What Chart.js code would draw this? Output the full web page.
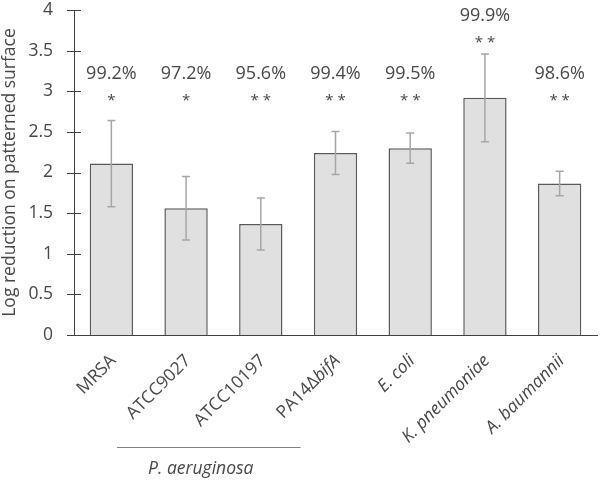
<!DOCTYPE html>
<html>
<head>
<meta charset="utf-8">
<script src="https://cdn.jsdelivr.net/npm/chart.js@4"></script>
<style>
  html, body { margin: 0; padding: 0; background: #ffffff; }
  #wrap { width: 600px; height: 481px; position: relative; }
</style>
</head>
<body>
<div id="wrap"><canvas id="c" width="600" height="481"></canvas></div>
<script>
// ---- data ----
const categories = ["MRSA", "ATCC9027", "ATCC10197", "PA14\u0394bifA", "E. coli", "K. pneumoniae", "A. baumannii"];
// label segments: [text, italic]
const categoryParts = [
  [["MRSA", false]],
  [["ATCC9027", false]],
  [["ATCC10197", false]],
  [["PA14\u0394", false], ["bifA", true]],
  [["E. coli", true]],
  [["K. pneumoniae", true]],
  [["A. baumannii", true]]
];
const logReduction = [2.11, 1.56, 1.365, 2.24, 2.30, 2.92, 1.865];
const errorSD = [0.53, 0.39, 0.32, 0.265, 0.185, 0.54, 0.15];
const percentLabels = ["99.2%", "97.2%", "95.6%", "99.4%", "99.5%", "99.9%", "98.6%"];
const starLabels = ["*", "*", "* *", "* *", "* *", "* *", "* *"];
const groupLabel = "P. aeruginosa";
const groupFirst = 1, groupLast = 3;
const yTickValues = [0, 0.5, 1, 1.5, 2, 2.5, 3, 3.5, 4];

const FONT = "'Open Sans', 'DejaVu Sans', sans-serif";
const W = "400";
const TEXT = "#484848";

const overlay = {
  id: "overlay",
  afterDatasetsDraw(chart) {
    const ctx = chart.ctx;
    const x = chart.scales.x, y = chart.scales.y;
    const area = chart.chartArea;
    ctx.save();
    // error bars
    ctx.strokeStyle = "#a6a6a6";
    ctx.lineWidth = 1.5;
    logReduction.forEach((v, i) => {
      const cx = x.getPixelForValue(i);
      const yt = y.getPixelForValue(v + errorSD[i]);
      const yb = y.getPixelForValue(v - errorSD[i]);
      ctx.beginPath();
      ctx.moveTo(cx, yt); ctx.lineTo(cx, yb);
      ctx.moveTo(cx - 4, yt); ctx.lineTo(cx + 4, yt);
      ctx.moveTo(cx - 4, yb); ctx.lineTo(cx + 4, yb);
      ctx.stroke();
    });
    // y axis cross ticks
    ctx.strokeStyle = "#404040";
    ctx.lineWidth = 1;
    yTickValues.forEach(t => {
      const py = Math.round(y.getPixelForValue(t)) + 0.5;
      ctx.beginPath();
      ctx.moveTo(area.left - 7, py); ctx.lineTo(area.left + (t === 0 ? 0 : 7), py);
      ctx.stroke();
    });
    // annotations above bars
    ctx.fillStyle = TEXT;
    ctx.textAlign = "center";
    ctx.textBaseline = "alphabetic";
    logReduction.forEach((v, i) => {
      const cx = x.getPixelForValue(i);
      const hi = v + errorSD[i];
      const starVal = Math.max(2.845, hi + 0.10);
      const pctVal = starVal + 0.31;
      ctx.font = W + " 18px " + FONT;
      ctx.fillText(percentLabels[i], cx, y.getPixelForValue(pctVal));
      ctx.font = W + " 15px " + FONT;
      ctx.fillText(starLabels[i], cx, y.getPixelForValue(starVal) + 1);
    });
    // rotated category labels
    ctx.textAlign = "left";
    ctx.textBaseline = "middle";
    categoryParts.forEach((parts, i) => {
      const cx = x.getPixelForValue(i);
      let total = 0;
      parts.forEach(p => { ctx.font = (p[1] ? "italic " : "") + W + " 17.5px " + FONT; total += ctx.measureText(p[0]).width; });
      ctx.save();
      ctx.translate(cx + 2, area.bottom + 23);
      ctx.rotate(-Math.PI / 4);
      let px = -total;
      parts.forEach(p => {
        ctx.font = (p[1] ? "italic " : "") + W + " 17.5px " + FONT;
        ctx.fillText(p[0], px, 0);
        px += ctx.measureText(p[0]).width;
      });
      ctx.restore();
    });
    // group line & label
    const gx1 = x.getPixelForValue(groupFirst) - 69;
    const gx2 = x.getPixelForValue(groupLast) - 35;
    ctx.strokeStyle = "#808080";
    ctx.lineWidth = 1;
    ctx.beginPath();
    ctx.moveTo(gx1, 447.5); ctx.lineTo(gx2, 447.5);
    ctx.stroke();
    ctx.font = "italic " + W + " 17.5px " + FONT;
    ctx.textAlign = "center";
    ctx.textBaseline = "alphabetic";
    ctx.fillText(groupLabel, (gx1 + gx2) / 2 - 8, 474);
    ctx.restore();
  }
};

new Chart(document.getElementById("c"), {
  type: "bar",
  data: {
    labels: categories,
    datasets: [{
      data: logReduction,
      backgroundColor: "#e0e0e0",
      borderColor: "#595959",
      borderWidth: 1.5,
      barPercentage: 0.58,
      categoryPercentage: 1.0
    }]
  },
  options: {
    responsive: false,
    animation: false,
    devicePixelRatio: 1,
    layout: { padding: { top: 10, right: 3, left: 0, bottom: 0 } },
    plugins: { legend: { display: false }, tooltip: { enabled: false } },
    scales: {
      x: {
        grid: { display: false, drawTicks: false },
        border: { display: true, color: "#404040", width: 1 },
        ticks: { display: false },
        afterFit(s) { s.height = 146; s.paddingLeft = 0; s.paddingRight = 0; }
      },
      y: {
        min: 0, max: 4,
        afterBuildTicks(s) { s.ticks = yTickValues.map(v => ({ value: v })); },
        grid: { display: false, drawTicks: false },
        border: { display: true, color: "#404040", width: 1 },
        ticks: {
          padding: 21,
          color: TEXT,
          font: { family: FONT, size: 17.5, weight: W },
          callback: v => String(v)
        },
        title: {
          display: true,
          text: "Log reduction on patterned surface",
          color: TEXT,
          font: { family: FONT, size: 17.5, weight: W },
          padding: { top: 0, bottom: 0 }
        },
        afterFit(s) { s.width = 74; s.paddingTop = 0; s.paddingBottom = 0; }
      }
    }
  },
  plugins: [overlay]
});
</script>
</body>
</html>
